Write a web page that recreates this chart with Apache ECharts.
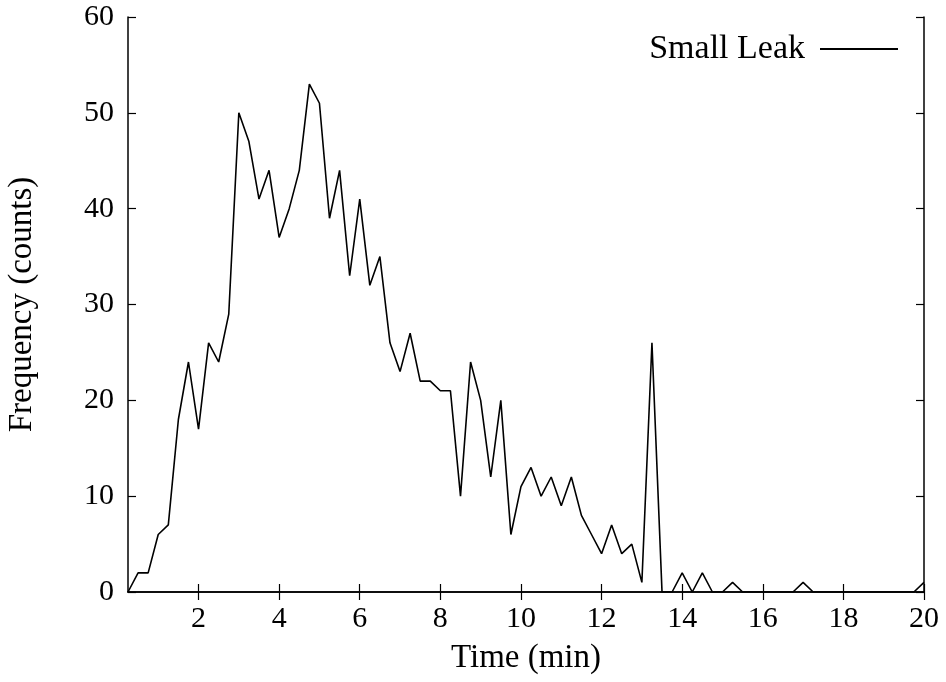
<!DOCTYPE html>
<html>
<head>
<meta charset="utf-8">
<script src="https://cdn.jsdelivr.net/npm/echarts@6/dist/echarts.min.js"></script>
<style>html,body{margin:0;padding:0;background:#fff}#c{width:946px;height:682px}</style>
</head>
<body>
<div id="c"></div>
<script>
var times = [0.25,0.5,0.75,1,1.25,1.5,1.75,2,2.25,2.5,2.75,3,3.25,3.5,3.75,4,4.25,4.5,4.75,5,
  5.25,5.5,5.75,6,6.25,6.5,6.75,7,7.25,7.5,7.75,8,8.25,8.5,8.75,9,9.25,9.5,9.75,10,
  10.25,10.5,10.75,11,11.25,11.5,11.75,12,12.25,12.5,12.75,13,13.25,13.5,13.75,14,14.25,14.5,14.75,15,
  15.25,15.5,15.75,16,16.25,16.5,16.75,17,17.25,17.5,17.75,18,18.25,18.5,18.75,19,19.25,19.5,19.75,20];
var counts = [0,2,2,6,7,18,24,17,26,24,29,50,47,41,44,37,40,44,53,51,
  39,44,33,41,32,35,26,23,27,22,22,21,21,10,24,20,12,20,6,11,
  13,10,12,9,12,8,6,4,7,4,5,1,26,0,0,2,0,2,0,0,
  1,0,0,0,0,0,0,1,0,0,0,0,0,0,0,0,0,0,0,1];
var xTicks = [2,4,6,8,10,12,14,16,18,20];
var yTicks = [0,10,20,30,40,50,60];
var seriesName = 'Small Leak';

var font = 'Liberation Serif';
var data = times.map(function(t,i){return [t, counts[i]];});
var chart = echarts.init(document.getElementById('c'), null, {renderer:'canvas'});
var axLine = {show:true, lineStyle:{color:'#000', width:1.5}};
chart.setOption({
  animation:false,
  backgroundColor:'#fff',
  grid:{left:128, right:22, top:17, bottom:90, containLabel:false, outerBoundsMode:'none'},
  legend:{
    show:true, right:43, top:27, align:'right', orient:'horizontal',
    itemWidth:78, itemHeight:2, itemGap:10,
    textStyle:{fontFamily:font, fontSize:34, color:'#000', padding:[0,10,0,0]},
    data:[{name:seriesName, icon:'rect', itemStyle:{color:'#000'}}]
  },
  xAxis:[{
    type:'value', min:0.25, max:20, position:'bottom',
    name:'Time (min)', nameLocation:'middle', nameGap:50,
    nameTextStyle:{fontFamily:font, fontSize:33, color:'#000'},
    axisLine:axLine, splitLine:{show:false},
    axisTick:{show:true, inside:true, length:8, customValues:xTicks, lineStyle:{color:'#000', width:1.2}},
    axisLabel:{show:true, customValues:xTicks, fontFamily:font, fontSize:30, color:'#000', margin:12}
  },{
    type:'value', min:0.25, max:20, position:'top',
    axisLine:axLine, splitLine:{show:false},
    axisTick:{show:true, inside:true, length:8, customValues:xTicks, lineStyle:{color:'#000', width:1.2}},
    axisLabel:{show:false}
  }],
  yAxis:[{
    type:'value', min:0, max:60, interval:10, position:'left',
    name:'Frequency (counts)', nameLocation:'middle', nameGap:89, nameRotate:90,
    nameTextStyle:{fontFamily:font, fontSize:33, color:'#000'},
    axisLine:axLine, splitLine:{show:false},
    axisTick:{show:true, inside:true, length:8, lineStyle:{color:'#000', width:1.2}},
    axisLabel:{show:true, fontFamily:font, fontSize:30, color:'#000', margin:14}
  },{
    type:'value', min:0, max:60, interval:10, position:'right',
    axisLine:axLine, splitLine:{show:false},
    axisTick:{show:true, inside:true, length:8, lineStyle:{color:'#000', width:1.2}},
    axisLabel:{show:false}
  }],
  series:[{
    name:seriesName, type:'line', xAxisIndex:0, yAxisIndex:0,
    data:data, showSymbol:false, symbol:'none',
    lineStyle:{color:'#000', width:1.6}, itemStyle:{color:'#000'}
  }]
});
</script>
</body>
</html>
